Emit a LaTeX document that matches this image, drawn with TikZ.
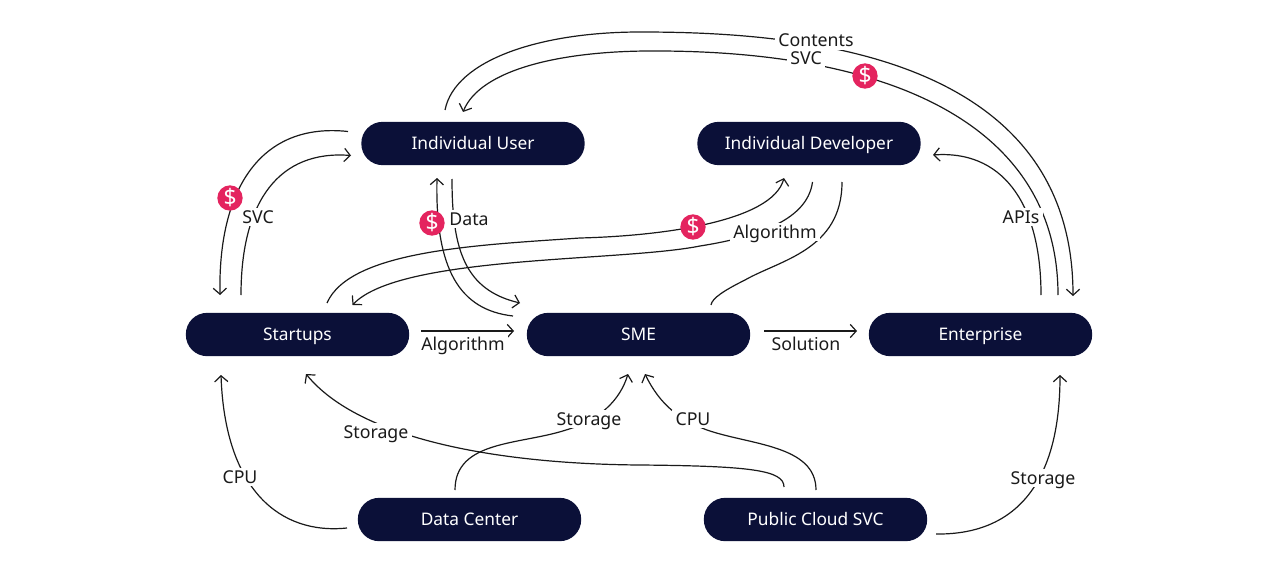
\documentclass[tikz,border=0pt]{standalone}
\usepackage{fontspec}
\setmainfont{Noto Sans}
\usetikzlibrary{arrows.meta}
\definecolor{navy}{HTML}{0B1038}
\definecolor{ink}{HTML}{1A1A1A}
\definecolor{coin}{HTML}{E4245F}
\tikzset{
  pill/.style={rounded corners=16pt,fill=navy,text=white,minimum width=167.5pt,minimum height=32.5pt,inner sep=0pt,text height=11pt,text depth=2pt,font=\fontsize{13pt}{15pt}\selectfont},
  flow/.style={draw=ink,line width=0.9pt,-{Straight Barb[length=4.5pt,width=10pt,line width=0.9pt]}},
  plain/.style={draw=ink,line width=0.9pt},
  tag/.style={fill=white,text=ink,inner xsep=2.5pt,inner ysep=0.5pt,text height=11pt,text depth=2pt,font=\fontsize{13.3pt}{15pt}\selectfont},
  dollar/.style={circle,fill=coin,text=white,minimum size=19pt,inner sep=0pt,font=\fontsize{17pt}{18pt}\selectfont}
}
\begin{document}
\begin{tikzpicture}[x=0.75pt,y=-0.75pt]
\path[use as bounding box] (0,0) rectangle (1280,574);

% Parties
\node[pill] (user) at (473,143.5) {Individual User};
\node[pill] (dev) at (809,143.5) {Individual Developer};
\node[pill] (startups) at (297.5,334.5) {Startups};
\node[pill] (sme) at (638.5,334.5) {SME};
\node[pill] (ent) at (980.5,334.5) {Enterprise};
\node[pill] (dc) at (469.5,519.5) {Data Center};
\node[pill] (cloud) at (815.5,519.5) {Public Cloud SVC};

% Long arcs over the top
\draw[flow] ([shift={(-28,-33.5)}]user.center) .. controls (455,60) and (540,32) .. (640,32) .. controls (790,32) and (1073,50) .. ([shift={(92.5,-38.5)}]ent.center);
\draw[flow] ([shift={(77.5,-39.5)}]ent.center) .. controls (1058,130) and (900,52) .. (660,51) .. controls (560,50) and (480,70) .. ([shift={(-10,-31.5)}]user.center);

% Startups and individual users
\draw[flow] ([shift={(-125,-12)}]user.center) .. controls (260,122) and (218,190) .. ([shift={(-77.5,-39.5)}]startups.center);
\draw[flow] ([shift={(-56.5,-39.5)}]startups.center) .. controls (241,200) and (280,150) .. ([shift={(-122,12)}]user.center);

% Individual users and SME
\draw[flow] ([shift={(-21,35.5)}]user.center) .. controls (452,250) and (465,290) .. ([shift={(-118.5,-31.5)}]sme.center);
\draw[flow] ([shift={(-125.5,-18.5)}]sme.center) .. controls (460,310) and (435,270) .. ([shift={(-36,34.5)}]user.center);

% Startups and individual developers
\draw[flow] ([shift={(29.5,-31.5)}]startups.center) .. controls (350,250) and (480,245) .. (580,238) .. controls (660,236) and (772,222) .. ([shift={(-25,34.5)}]dev.center);
\draw[flow] ([shift={(3.5,38.5)}]dev.center) .. controls (808,215) and (770,235) .. (700,246) .. controls (620,262) and (400,255) .. ([shift={(55,-29.5)}]startups.center);

% Individual developers and SME
\draw[plain] ([shift={(33,38.5)}]dev.center) .. controls (842,250) and (780,260) .. (745,280) .. controls (725,290) and (712,298) .. ([shift={(72.5,-29.5)}]sme.center);

% Middle row
\draw[flow] ([shift={(123.5,-3.5)}]startups.center) -- ([shift={(-124.5,-3.5)}]sme.center);
\draw[flow] ([shift={(125.5,-3.5)}]sme.center) -- ([shift={(-123.5,-3.5)}]ent.center);

% Enterprise to developers
\draw[flow] ([shift={(60.5,-39.5)}]ent.center) .. controls (1041,200) and (1000,150) .. ([shift={(124,11.5)}]dev.center);

% Infrastructure supply
\draw[flow] ([shift={(-122.5,8.5)}]dc.center) .. controls (280,535) and (225,490) .. ([shift={(-76.5,40.5)}]startups.center);
\draw[flow] ([shift={(-31.5,-32.5)}]cloud.center) .. controls (784,470) and (750,466) .. (640,465) .. controls (500,464) and (360,440) .. ([shift={(8.5,39.5)}]startups.center);
\draw[flow] ([shift={(-14.5,-29.5)}]dc.center) .. controls (455,440) and (520,445) .. (566,430) .. controls (600,420) and (620,400) .. ([shift={(-10.5,39.5)}]sme.center);
\draw[flow] ([shift={(0.5,-29.5)}]cloud.center) .. controls (816,445) and (750,445) .. (707,430) .. controls (680,420) and (660,405) .. ([shift={(6.5,39.5)}]sme.center);
\draw[flow] ([shift={(120.5,14.5)}]cloud.center) .. controls (1010,535) and (1060,490) .. ([shift={(79.5,40.5)}]ent.center);

% Flow labels
\node[tag] (lcontents) at (816,41) {Contents};
\node[tag] (lsvctop) at (806,59) {SVC};
\node[tag] (lsvcleft) at (258,217) {SVC};
\node[tag] (ldata) at (469,219) {Data};
\node[tag] (lalgdev) at (775,232) {Algorithm};
\node[tag] (lapis) at (1021,217) {APIs};
\node[tag] (lalgmid) at (463,344) {Algorithm};
\node[tag] (lsolution) at (806,344) {Solution};
\node[tag] (lcpuleft) at (240,477) {CPU};
\node[tag] (lstorleft) at (376,432) {Storage};
\node[tag] (lstormid) at (589,419) {Storage};
\node[tag] (lcpumid) at (693,419) {CPU};
\node[tag] (lstorright) at (1043,478) {Storage};

% Paid flows
\node[dollar] (coina) at (230,198) {\$};
\node[dollar] (coinb) at (432,223) {\$};
\node[dollar] (coinc) at (693,227) {\$};
\node[dollar] (coind) at (865,76) {\$};
\end{tikzpicture}
\end{document}
